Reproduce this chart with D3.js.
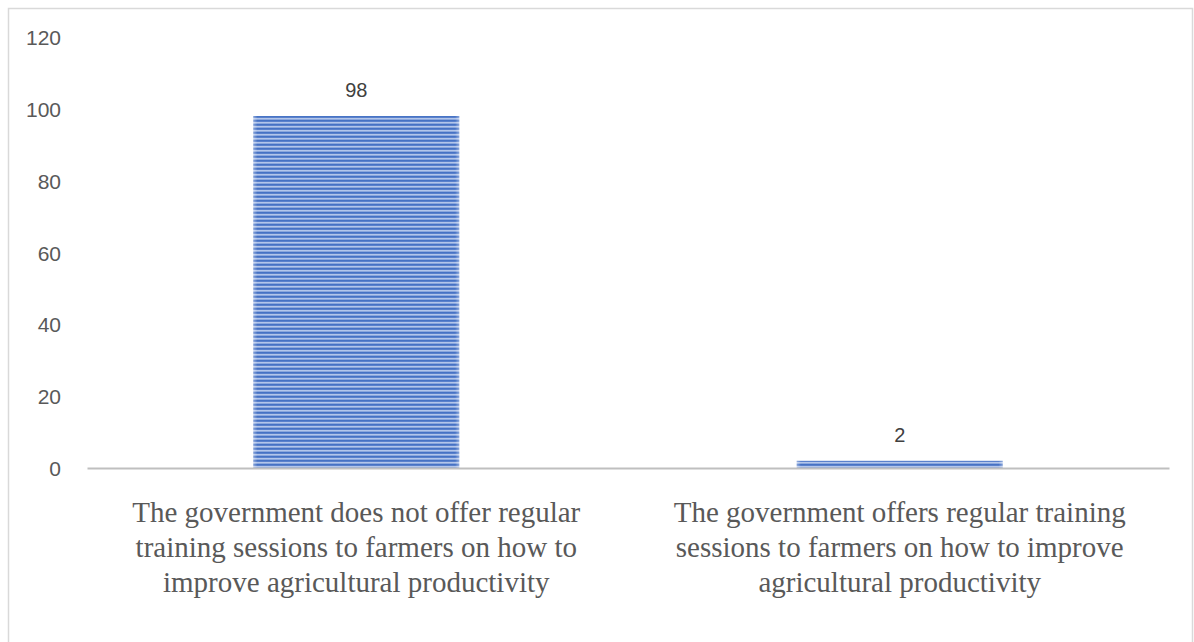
<!DOCTYPE html>
<html>
<head>
<meta charset="utf-8">
<script src="https://cdn.jsdelivr.net/npm/d3@7"></script>
<style>
  html, body { margin: 0; padding: 0; background: #ffffff; }
  svg { display: block; }
</style>
</head>
<body>
<svg id="chart" width="1194" height="642"></svg>
<script>
// Survey responses on government training for farmers (percent)
const categories = [
  ["The government does not offer regular", "training sessions to farmers on how to", "improve agricultural productivity"],
  ["The government offers regular training", "sessions to farmers on how to improve", "agricultural productivity"]
];
const values = [98, 2];
const yTicks = [0, 20, 40, 60, 80, 100, 120];

const svg = d3.select("#chart");

// Outer chart frame
svg.append("rect")
  .attr("x", 8.5).attr("y", 8.5)
  .attr("width", 1184).attr("height", 660)
  .attr("fill", "#ffffff")
  .attr("stroke", "#d9d9d9").attr("stroke-width", 1.5);

// Horizontal stripe fill for the bars
const defs = svg.append("defs");
const pat = defs.append("pattern")
  .attr("id", "stripes")
  .attr("patternUnits", "userSpaceOnUse")
  .attr("width", 8).attr("height", 4);
pat.append("rect").attr("width", 8).attr("height", 4).attr("fill", "#6388d0");
pat.append("rect").attr("y", 0).attr("width", 8).attr("height", 1.3).attr("fill", "#4672c4");
pat.append("rect").attr("y", 2).attr("width", 8).attr("height", 1.5).attr("fill", "#b3c6ea");

// Soft edge shading on the sides of the bars
const edge = defs.append("linearGradient").attr("id", "edge")
  .attr("x1", "0").attr("x2", "1").attr("y1", "0").attr("y2", "0");
edge.append("stop").attr("offset", "0").attr("stop-color", "#ffffff").attr("stop-opacity", 0.35);
edge.append("stop").attr("offset", "0.02").attr("stop-color", "#ffffff").attr("stop-opacity", 0);
edge.append("stop").attr("offset", "0.98").attr("stop-color", "#ffffff").attr("stop-opacity", 0);
edge.append("stop").attr("offset", "1").attr("stop-color", "#ffffff").attr("stop-opacity", 0.35);

const plotLeft = 87, plotRight = 1169, plotTop = 37, plotBottom = 468;

const x = d3.scaleBand()
  .domain(d3.range(values.length))
  .range([plotLeft, plotRight])
  .paddingInner(0.621)
  .paddingOuter(0.306);

const y = d3.scaleLinear()
  .domain([0, 120])
  .range([plotBottom, plotTop]);

// Y axis labels (no axis line, no ticks)
const yAxis = d3.axisLeft(y)
  .tickValues(yTicks)
  .tickSize(0)
  .tickPadding(0);
const yg = svg.append("g")
  .attr("transform", `translate(${61},0)`)
  .call(yAxis);
yg.select(".domain").remove();
yg.selectAll("text")
  .attr("font-family", "'Liberation Sans', Arial, sans-serif")
  .attr("font-size", 21)
  .attr("fill", "#595959")
  .attr("dy", "0.36em");

// Bars
const bars = svg.append("g");
bars.selectAll("rect.bar")
  .data(values)
  .join("rect")
  .attr("class", "bar")
  .attr("x", (d, i) => x(i))
  .attr("y", d => y(d))
  .attr("width", x.bandwidth())
  .attr("height", d => plotBottom - y(d))
  .attr("fill", "url(#stripes)");
bars.selectAll("rect.edge")
  .data(values)
  .join("rect")
  .attr("class", "edge")
  .attr("x", (d, i) => x(i))
  .attr("y", d => y(d))
  .attr("width", x.bandwidth())
  .attr("height", d => plotBottom - y(d))
  .attr("fill", "url(#edge)");

// Baseline (category axis line)
const xAxis = d3.axisBottom(x).tickSize(0).tickFormat("");
const xg = svg.append("g")
  .attr("transform", `translate(0,${plotBottom})`)
  .call(xAxis);
xg.select(".domain")
  .attr("stroke", "#bfbfbf")
  .attr("stroke-width", 2);

// Value labels
svg.append("g").selectAll("text")
  .data(values)
  .join("text")
  .attr("x", (d, i) => x(i) + x.bandwidth() / 2)
  .attr("y", d => y(d) - 19)
  .attr("text-anchor", "middle")
  .attr("font-family", "'Liberation Sans', Arial, sans-serif")
  .attr("font-size", 20)
  .attr("fill", "#404040")
  .text(d => d);

// Category labels, three lines each
const cats = svg.append("g").selectAll("text")
  .data(categories)
  .join("text")
  .attr("text-anchor", "middle")
  .attr("font-family", "'Liberation Serif', 'Times New Roman', serif")
  .attr("font-size", 29)
  .attr("fill", "#595959");
cats.each(function(lines, i) {
  const t = d3.select(this);
  lines.forEach((line, k) => {
    t.append("tspan")
      .attr("x", x(i) + x.bandwidth() / 2)
      .attr("y", 522 + k * 35)
      .text(line);
  });
});
</script>
</body>
</html>
